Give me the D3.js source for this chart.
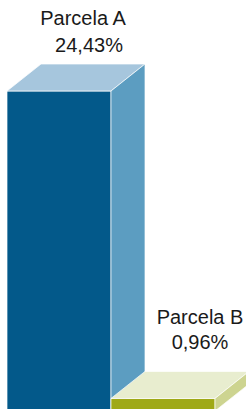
<!DOCTYPE html>
<html>
<head>
<meta charset="utf-8">
<script src="https://cdn.jsdelivr.net/npm/d3@7"></script>
<style>
  html, body { margin: 0; padding: 0; background: #fff; overflow: hidden; }
  svg { display: block; }
</style>
</head>
<body>
<script>
// data
const categories = ["Parcela A", "Parcela B"]
const values = [24.43, 0.96]
const valueLabels = ["24,43%", "0,96%"]

// size
const width = 246
const height = 409
const depthX = 34  // 3d offset to the right
const depthY = 27  // 3d offset upward

const palette = [
  { front: "#03598a", top: "#a6c6dd", side: "#5c9dc1" },
  { front: "#9fa917", top: "#e8edcf", side: "#cdd490" }
]

const svg = d3.select("body").append("svg")
  .attr("width", width)
  .attr("height", height)

const x = d3.scaleBand()
  .domain(categories)
  .range([7, 215])
  .padding(0)

const y = d3.scaleLinear()
  .domain([0, d3.max(values)])
  .range([411, 91])

const bars = svg.append("g")
  .selectAll("g")
  .data(categories.map((c, i) => ({ c, v: values[i], i })))
  .join("g")
  .attr("stroke", "#fff")
  .attr("stroke-width", 1)
  .attr("stroke-opacity", 0.7)
  .attr("stroke-linejoin", "round")

// front face
bars.append("rect")
  .attr("x", d => x(d.c))
  .attr("y", d => y(d.v))
  .attr("width", x.bandwidth())
  .attr("height", d => y(0) - y(d.v))
  .attr("fill", d => palette[d.i].front)

// top face
bars.append("path")
  .attr("fill", d => palette[d.i].top)
  .attr("d", d => {
    const x0 = x(d.c), x1 = x0 + x.bandwidth(), t = y(d.v)
    return `M${x0},${t}L${x0 + depthX},${t - depthY}L${x1 + depthX},${t - depthY}L${x1},${t}Z`
  })

// side face
bars.append("path")
  .attr("fill", d => palette[d.i].side)
  .attr("d", d => {
    const x1 = x(d.c) + x.bandwidth(), t = y(d.v), b = y(0)
    return `M${x1},${t}L${x1 + depthX},${t - depthY}L${x1 + depthX},${b - depthY}L${x1},${b}Z`
  })

// labels above each bar
const nameNudge = [{ dx: 24, dy: -39 }, { dx: 37, dy: -47 }]
const valNudge = [{ dx: 30, dy: -12 }, { dx: 37, dy: -22 }]

const labels = svg.append("g")
  .attr("text-anchor", "middle")
  .attr("fill", "#1a1a1a")
  .style("font", "20px 'Liberation Sans', Arial, sans-serif")

categories.forEach((c, i) => {
  const cx = x(c) + x.bandwidth() / 2
  const back = y(values[i]) - depthY
  labels.append("text")
    .attr("x", cx + nameNudge[i].dx)
    .attr("y", back + nameNudge[i].dy)
    .text(c)
  labels.append("text")
    .attr("x", cx + valNudge[i].dx)
    .attr("y", back + valNudge[i].dy)
    .text(valueLabels[i])
})
</script>
</body>
</html>
